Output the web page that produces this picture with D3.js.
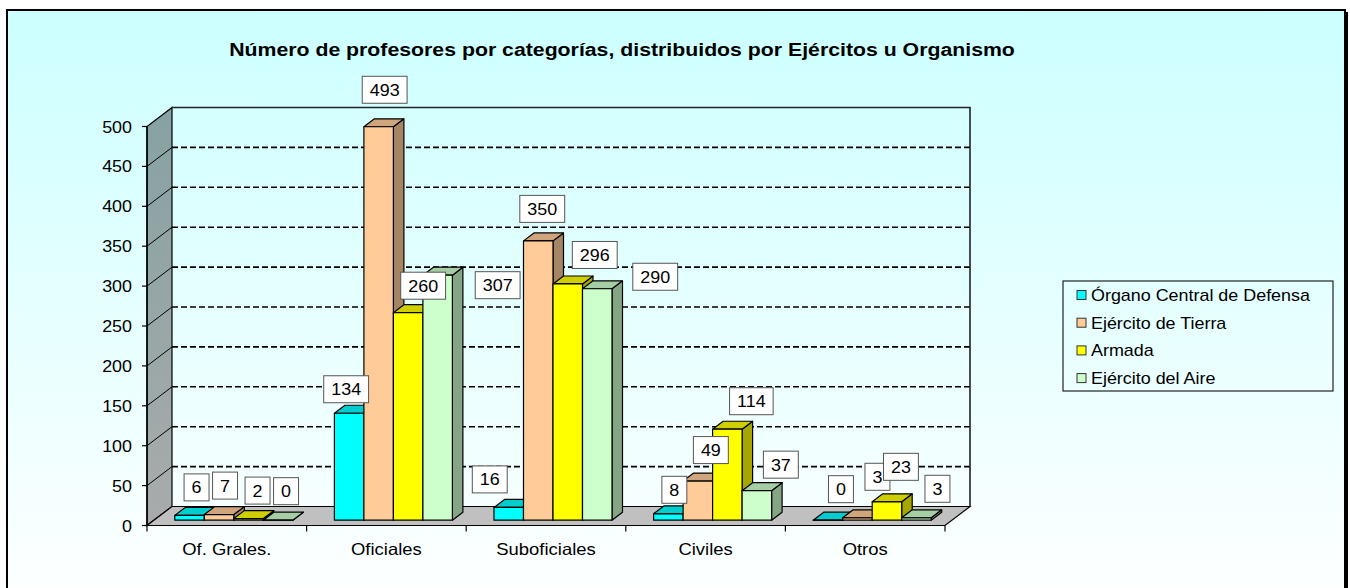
<!DOCTYPE html>
<html>
<head>
<meta charset="utf-8">
<script src="https://cdn.jsdelivr.net/npm/d3@7"></script>
<style>
  html, body { margin: 0; padding: 0; background: #fff; overflow: hidden; }
  text { font-family: "Liberation Sans", Arial, sans-serif; fill: #000; }
</style>
</head>
<body>
<div id="chart"></div>
<script>
const categories = ["Of. Grales.", "Oficiales", "Suboficiales", "Civiles", "Otros"];
const seriesNames = ["Órgano Central de Defensa", "Ejército de Tierra", "Armada", "Ejército del Aire"];
const organoCentral = [6, 134, 16, 8, 0];
const ejercitoTierra = [7, 493, 350, 49, 3];
const armada = [2, 260, 296, 114, 23];
const ejercitoAire = [0, 307, 290, 37, 3];
const yTicks = [0, 50, 100, 150, 200, 250, 300, 350, 400, 450, 500];
const title = "Número de profesores por categorías, distribuidos por Ejércitos u Organismo";

const seriesValues = [organoCentral, ejercitoTierra, armada, ejercitoAire];
const seriesColors = ["#00FFFF", "#FFCC99", "#FFFF00", "#CCFFCC"];

// where Excel dropped each value label, relative to the top of its bar
const labelShift = [
  [[7, -28], [-3, -24], [-19, -28], [6, -24], [13, -31]],
  [[6, -29], [6, -37], [4, -32], [13, -31], [20, -41]],
  [[9, -28], [15, -27], [27, -29], [24, -28], [14, -35]],
  [[8, -29], [60, 10], [58, -12], [24, -26], [21, -29]]
];

const width = 1350, height = 588;
const stretch = 1.12; // the source picture was widened a bit

const svg = d3.select("#chart").append("svg")
  .attr("width", width)
  .attr("height", height);

// background gradient
const defs = svg.append("defs");
const bg = defs.append("linearGradient").attr("id", "bg").attr("x1", 0).attr("y1", 0).attr("x2", 0).attr("y2", 1);
bg.append("stop").attr("offset", "0%").attr("stop-color", "#CCFFFF");
bg.append("stop").attr("offset", "100%").attr("stop-color", "#FFFFFF");
const wall = defs.append("linearGradient").attr("id", "wall").attr("x1", 0).attr("y1", 0).attr("x2", 0).attr("y2", 1);
wall.append("stop").attr("offset", "0%").attr("stop-color", "#86A2A2");
wall.append("stop").attr("offset", "100%").attr("stop-color", "#A9ABAB");

svg.append("rect")
  .attr("x", 7).attr("y", 10).attr("width", 1338).attr("height", 600)
  .attr("fill", "url(#bg)").attr("stroke", "#000").attr("stroke-width", 2);
svg.append("line")
  .attr("x1", 1347).attr("y1", 12).attr("x2", 1347).attr("y2", 600)
  .attr("stroke", "#000").attr("stroke-width", 2);

function addText(parent, px, py, str, size, anchor, weight) {
  const g = parent.append("g").attr("transform", `translate(${px},${py}) scale(${stretch},1)`);
  return g.append("text")
    .attr("text-anchor", anchor || "start")
    .attr("font-size", size)
    .attr("font-weight", weight || "normal")
    .text(str);
}

addText(svg, 622, 56, title, 19, "middle", "bold");

// 3D geometry
const DX = 25, DY = -19;
const x = d3.scaleBand().domain(categories).range([147, 945]);
const xs = d3.scaleBand().domain(d3.range(seriesNames.length))
  .range([20.8, x.bandwidth() - 20.8]);
const y = d3.scaleLinear().domain([0, 500]).range([525.5, 126.5]);
const P = (px, v, d) => [px + DX * d, y(v) + DY * d];
const poly = pts => pts.map(p => p.join(",")).join(" ");

const plot = svg.append("g");

// side wall and floor
plot.append("polygon")
  .attr("points", poly([P(147, 0, 0), P(147, 500, 0), P(147, 500, 1), P(147, 0, 1)]))
  .attr("fill", "url(#wall)").attr("stroke", "#000").attr("stroke-width", 1.2);
plot.append("polygon")
  .attr("points", poly([P(147, 0, 0), P(945, 0, 0), P(945, 0, 1), P(147, 0, 1)]))
  .attr("fill", "#C0C0C0").attr("stroke", "#000").attr("stroke-width", 1.2);

// back wall gridlines
const grid = yTicks.filter(t => t > 0 && t < 500);
plot.selectAll(".grid").data(grid).enter().append("line")
  .attr("x1", d => P(147, d, 1)[0]).attr("y1", d => P(147, d, 1)[1])
  .attr("x2", d => P(945, d, 1)[0]).attr("y2", d => P(945, d, 1)[1])
  .attr("stroke", "#000").attr("stroke-width", 1.6).attr("stroke-dasharray", "6,3");
plot.selectAll(".sgrid").data(grid).enter().append("line")
  .attr("x1", d => P(147, d, 0)[0]).attr("y1", d => P(147, d, 0)[1])
  .attr("x2", d => P(147, d, 1)[0]).attr("y2", d => P(147, d, 1)[1])
  .attr("stroke", "#000").attr("stroke-width", 1);
plot.append("polyline")
  .attr("points", poly([P(147, 500, 1), P(945, 500, 1), P(945, 0, 1)]))
  .attr("fill", "none").attr("stroke", "#222").attr("stroke-width", 1.6);

// value axis
plot.append("line")
  .attr("x1", 147).attr("y1", y(0)).attr("x2", 147).attr("y2", y(500))
  .attr("stroke", "#000").attr("stroke-width", 1.5);
yTicks.forEach(t => {
  plot.append("line").attr("x1", 142).attr("x2", 147).attr("y1", y(t)).attr("y2", y(t))
    .attr("stroke", "#000").attr("stroke-width", 1.2);
  addText(plot, 132, y(t) + 6, t, 16, "end");
});

// category axis
const edges = categories.map(c => x(c)).concat([x(categories[categories.length - 1]) + x.bandwidth()]);
edges.forEach(e => {
  plot.append("line").attr("x1", e).attr("x2", e).attr("y1", y(0)).attr("y2", y(0) + 6)
    .attr("stroke", "#000").attr("stroke-width", 1.2);
});
categories.forEach(c => addText(plot, x(c) + x.bandwidth() / 2, 555, c, 16.5, "middle"));

// bars
const D1 = 0.28, D2 = 0.7;
const bars = [];
categories.forEach((c, ci) => {
  seriesValues.forEach((vals, si) => {
    bars.push({ c, ci, si, v: vals[ci] });
  });
});

bars.forEach(b => {
  const xl = x(b.c) + xs(b.si), xr = xl + xs.bandwidth();
  const col = d3.color(seriesColors[b.si]);
  const g = plot.append("g").attr("stroke", "#000").attr("stroke-width", 1.2).attr("stroke-linejoin", "round");
  g.append("polygon")
    .attr("points", poly([P(xr, 0, D1), P(xr, 0, D2), P(xr, b.v, D2), P(xr, b.v, D1)]))
    .attr("fill", col.darker(1.2));
  g.append("polygon")
    .attr("points", poly([P(xl, b.v, D1), P(xr, b.v, D1), P(xr, b.v, D2), P(xl, b.v, D2)]))
    .attr("fill", col.darker(0.6));
  g.append("polygon")
    .attr("points", poly([P(xl, 0, D1), P(xr, 0, D1), P(xr, b.v, D1), P(xl, b.v, D1)]))
    .attr("fill", col);
});

// value labels
const labels = svg.append("g");
bars.forEach(b => {
  const xl = x(b.c) + xs(b.si);
  const top = P(xl + xs.bandwidth() / 2, b.v, D1);
  const sh = labelShift[b.si][b.ci];
  const cx = top[0] + sh[0], cy = top[1] + sh[1];
  const g = labels.append("g");
  const r = g.append("rect");
  const t = addText(g, cx, cy + 6, b.v, 16, "middle");
  const w = t.node().getComputedTextLength() * stretch + 15;
  r.attr("x", cx - w / 2).attr("y", cy - 13.5).attr("width", w).attr("height", 27)
    .attr("fill", "#fff").attr("stroke", "#555").attr("stroke-width", 1);
});

// legend
const legend = svg.append("g");
legend.append("rect")
  .attr("x", 1063).attr("y", 281).attr("width", 270).attr("height", 110)
  .attr("fill", "none").attr("stroke", "#222").attr("stroke-width", 1.2);
seriesNames.forEach((name, i) => {
  const cy = 295 + i * 27.7;
  legend.append("rect")
    .attr("x", 1077).attr("y", cy - 4.5).attr("width", 9).attr("height", 9)
    .attr("fill", seriesColors[i]).attr("stroke", "#333").attr("stroke-width", 1);
  addText(legend, 1091, cy + 6, name, 16, "start");
});
</script>
</body>
</html>
